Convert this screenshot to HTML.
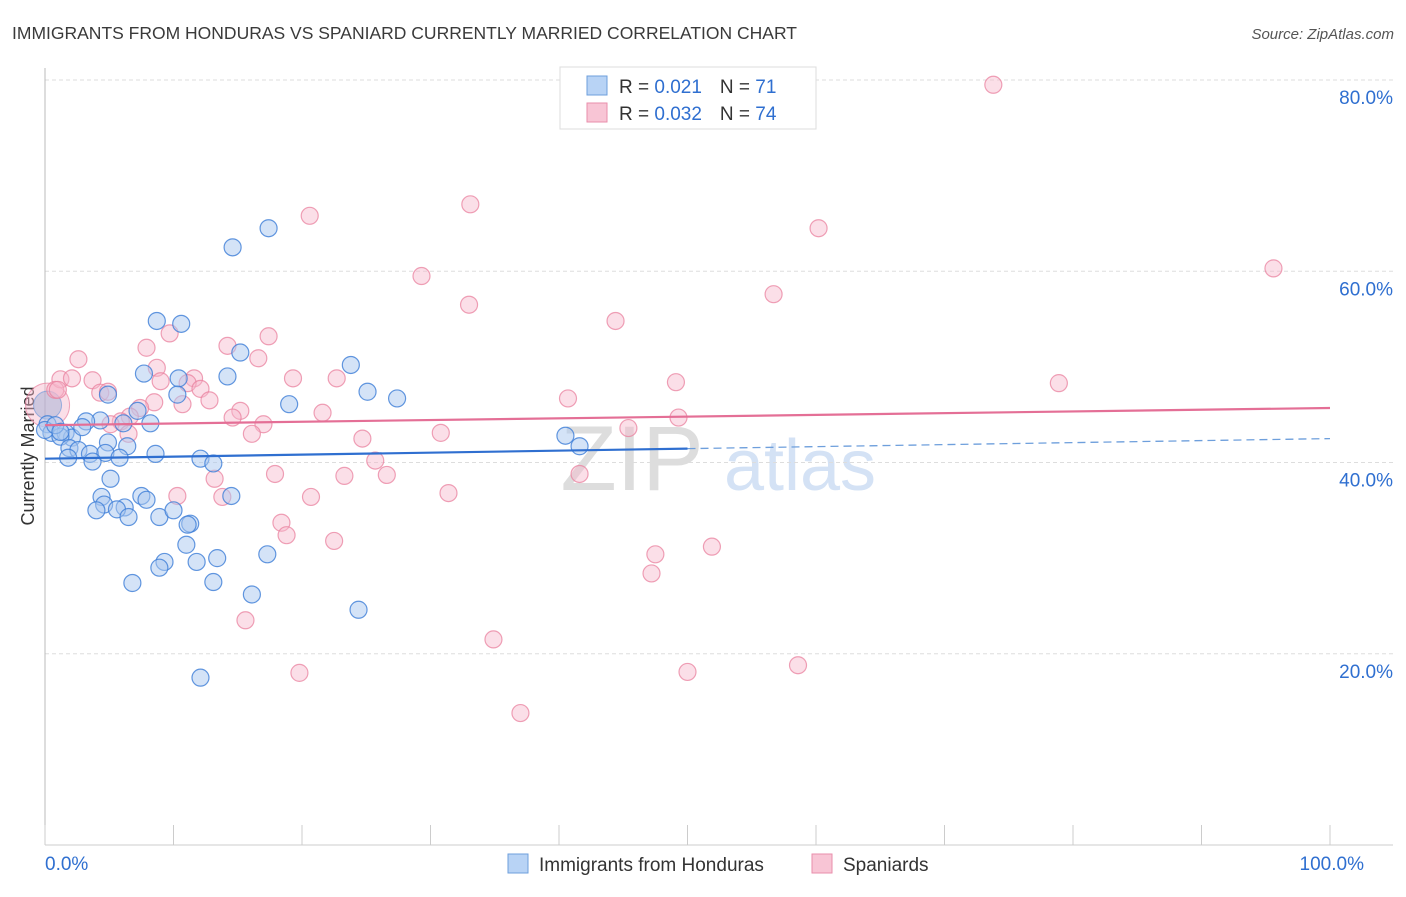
<!DOCTYPE html>
<html><head><meta charset="utf-8"><style>
body{margin:0;background:#fff;font-family:"Liberation Sans",sans-serif}
svg text{font-family:"Liberation Sans",sans-serif}
</style></head><body>
<svg id="c" width="1406" height="892">
<text x="12" y="39" font-size="17.5" fill="#3a3a3a">IMMIGRANTS FROM HONDURAS VS SPANIARD CURRENTLY MARRIED CORRELATION CHART</text>
<text x="1394" y="39" font-size="15" fill="#555" font-style="italic" text-anchor="end">Source: ZipAtlas.com</text>
<text x="34" y="456" font-size="18" fill="#333" text-anchor="middle" transform="rotate(-90 34 456)">Currently Married</text>
<g><text x="632" y="490" font-size="92" fill="#ddd" font-family="Liberation Serif" text-anchor="middle">ZIP</text><text x="800" y="490" font-size="72" fill="#d4e2f5" text-anchor="middle">atlas</text></g>
<g id="grid"></g><g id="marks"></g><g id="trends"></g>
<g>
<rect x="560" y="67" width="256" height="62" fill="#fff" stroke="#ddd"/>
<rect x="587" y="76" width="20" height="19" fill="#b8d3f5" stroke="#6e9fdc"/>
<rect x="587" y="103" width="20" height="19" fill="#f8c5d5" stroke="#e98eab"/>
<text x="619" y="93" font-size="19" fill="#333">R = <tspan fill="#2f6fd0">0.021</tspan><tspan dx="18">N = </tspan><tspan fill="#2f6fd0">71</tspan></text>
<text x="619" y="120" font-size="19" fill="#333">R = <tspan fill="#2f6fd0">0.032</tspan><tspan dx="18">N = </tspan><tspan fill="#2f6fd0">74</tspan></text>
</g>
<g>
<rect x="508" y="854" width="20" height="19" fill="#b8d3f5" stroke="#6e9fdc"/>
<text x="539" y="871" font-size="19" fill="#333">Immigrants from Honduras</text>
<rect x="812" y="854" width="20" height="19" fill="#f8c5d5" stroke="#e98eab"/>
<text x="843" y="871" font-size="19" fill="#333">Spaniards</text>
</g>
</svg>
<script>
const yTicks=[20,40,60,80];
const yTickLabels=["20.0%","40.0%","60.0%","80.0%"];
const xTickLabels=["0.0%","100.0%"];
const blueX=[14.6,17.4,8.7,10.6,15.2,23.8,7.7,10.4,14.2,25.1,27.4,19.0,4.9,10.3,7.2,4.3,3.2,8.2,6.1,0.2,0.5,1.6,2.1,1.2,2.9,4.9,6.4,1.9,2.6,3.5,4.7,5.8,1.8,3.7,8.6,12.1,13.1,40.5,41.6,5.1,4.4,7.5,7.9,14.5,4.6,6.2,4.0,5.6,6.5,8.9,10.0,11.3,11.1,11.0,9.3,8.9,11.8,13.4,17.3,13.1,6.8,16.1,24.4,12.1,0,0.8,1.2];
const blueY=[62.5,64.5,54.8,54.5,51.5,50.2,49.3,48.8,49.0,47.4,46.7,46.1,47.1,47.1,45.4,44.4,44.3,44.1,44.1,44.0,43.1,43.1,42.6,42.7,43.7,42.1,41.7,41.5,41.3,40.9,41.0,40.5,40.5,40.1,40.9,40.4,39.9,42.8,41.7,38.3,36.4,36.5,36.1,36.5,35.6,35.3,35.0,35.1,34.3,34.3,35.0,33.6,33.5,31.4,29.6,29.0,29.6,30.0,30.4,27.5,27.4,26.2,24.6,17.5,43.4,43.9,43.2];
const pinkX=[73.8,20.6,33.1,60.2,95.6,29.3,56.7,33.0,44.4,9.7,17.4,7.9,14.2,2.6,16.6,8.7,11.6,1.2,2.1,3.7,19.3,22.7,49.1,78.9,9.0,11.1,12.1,0.8,4.3,12.8,40.7,4.9,8.5,7.4,10.7,15.2,6.6,5.9,14.6,21.6,17.0,49.3,5.1,16.1,6.5,24.7,30.8,45.4,25.7,17.9,23.3,26.6,41.6,13.2,31.4,13.8,20.7,10.3,18.4,18.8,22.5,51.9,47.5,47.2,15.6,34.9,58.6,50.0,19.8,37.0,1.0];
const pinkY=[79.5,65.8,67.0,64.5,60.3,59.5,57.6,56.5,54.8,53.5,53.2,52.0,52.2,50.8,50.9,49.9,48.8,48.7,48.8,48.6,48.8,48.8,48.4,48.3,48.5,48.3,47.7,47.6,47.3,46.5,46.7,47.4,46.3,45.7,46.1,45.4,44.8,44.3,44.7,45.2,44.0,44.7,44.0,43.0,43.0,42.5,43.1,43.6,40.2,38.8,38.6,38.7,38.8,38.3,36.8,36.4,36.4,36.5,33.7,32.4,31.8,31.2,30.4,28.4,23.5,21.5,18.8,18.1,18.0,13.8,47.6];
const bigX=[0.2],bigY=[46.0];
const blueTrend=[40.4,42.5], pinkTrend=[43.9,45.7];
const NS="http://www.w3.org/2000/svg";
const X=v=>45+v*12.85, Y=v=>845-v*9.5625;
function mk(t,a,p){const e=document.createElementNS(NS,t);for(const k in a)e.setAttribute(k,a[k]);p.appendChild(e);return e;}
const grid=document.getElementById('grid'),marks=document.getElementById('marks'),tr=document.getElementById('trends');
yTicks.forEach((t,i)=>{
 const l=mk('line',{x1:45,x2:1393,y1:Y(t),y2:Y(t),stroke:'#ddd','stroke-dasharray':'4,3'},grid);
 
 
 const tx=mk('text',{x:1393,y:Y(t)+24,'font-size':19,fill:'#2f6fd0','text-anchor':'end'},grid);tx.textContent=yTickLabels[i];
 
 
});
mk('line',{x1:45,x2:45,y1:68,y2:845,stroke:'#bbb'},grid);
mk('line',{x1:45,x2:1393,y1:845,y2:845,stroke:'#ccc'},grid);
for(let i=0;i<=10;i++){const l=mk('line',{x1:X(i*10),x2:X(i*10),y1:825,y2:845,stroke:'#ccc'},grid);
 
 }
[[0,'start'],[100,'end']].forEach((d,i)=>{const t=mk('text',{x:X(d[0])+(i?34:0),y:870,'font-size':19,fill:'#2f6fd0','text-anchor':i?'end':'start'},grid);t.textContent=xTickLabels[i];
 
 });
bigX.forEach((x,i)=>{const c=mk('circle',{cx:X(x),cy:Y(bigY[i]),r:22,fill:'rgba(246,184,204,0.45)',stroke:'rgba(233,130,159,0.7)'},marks);
 
 
 const d=mk('circle',{cx:X(x),cy:Y(bigY[i]),r:14,fill:'rgba(150,170,210,0.45)',stroke:'rgba(74,134,216,0.5)'},marks);
 
 });
pinkX.forEach((x,i)=>{const c=mk('circle',{cx:X(x),cy:Y(pinkY[i]),r:8.5,fill:'rgba(246,184,204,0.45)',stroke:'rgba(233,130,159,0.75)','stroke-width':1.2},marks);
 
 });
blueX.forEach((x,i)=>{const c=mk('circle',{cx:X(x),cy:Y(blueY[i]),r:8.5,fill:'rgba(169,200,239,0.5)',stroke:'rgba(60,125,215,0.8)','stroke-width':1.2},marks);
 
 });
const bm=blueTrend[0]+(blueTrend[1]-blueTrend[0])*0.5;
let l=mk('line',{x1:X(0),y1:Y(blueTrend[0]),x2:X(50),y2:Y(bm),stroke:'#2f6fd0','stroke-width':2.2},tr);


l=mk('line',{x1:X(50),y1:Y(bm),x2:X(100),y2:Y(blueTrend[1]),stroke:'#6e9fdc','stroke-width':1.3,'stroke-dasharray':'8,5'},tr);


l=mk('line',{x1:X(0),y1:Y(pinkTrend[0]),x2:X(100),y2:Y(pinkTrend[1]),stroke:'#e46f96','stroke-width':2.2},tr);


</script>
</body></html>
